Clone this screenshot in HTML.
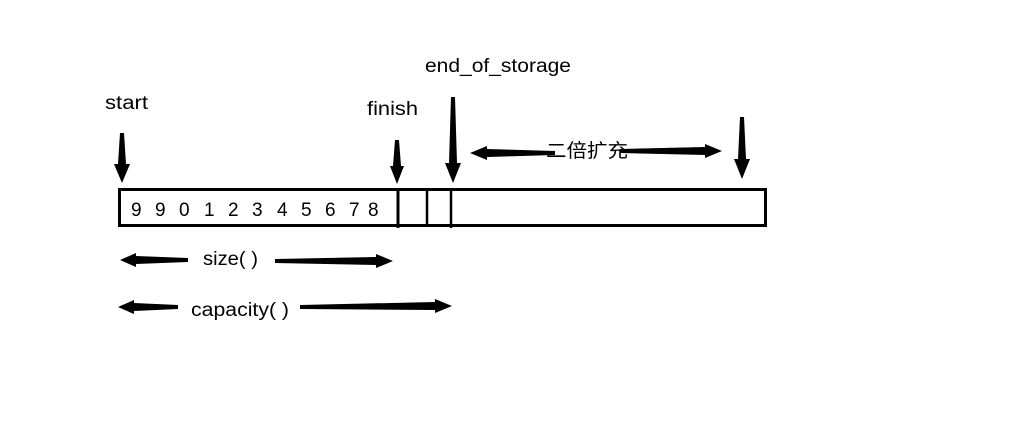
<!DOCTYPE html>
<html><head><meta charset="utf-8"><style>
html,body{margin:0;padding:0;background:#fff;}
svg{display:block}
text{font-family:"Liberation Sans","Noto Sans CJK SC",sans-serif;font-size:19px;fill:#000}
</style></head><body>
<svg width="1013" height="447" viewBox="0 0 1013 447" xmlns="http://www.w3.org/2000/svg">
<rect x="0" y="0" width="1013" height="447" fill="#fff"/>
<rect x="119.5" y="189.5" width="646" height="36" fill="none" stroke="#000" stroke-width="3"/>
<line x1="398" y1="188" x2="398" y2="228" stroke="#000" stroke-width="3"/>
<line x1="427" y1="188" x2="427" y2="227" stroke="#000" stroke-width="2.5"/>
<line x1="451" y1="188" x2="451" y2="228" stroke="#000" stroke-width="2.5"/>
<g font-size="19">
<text x="131" y="216">9</text><text x="155" y="216">9</text><text x="179" y="216">0</text>
<text x="204" y="216">1</text><text x="228" y="216">2</text><text x="252" y="216">3</text>
<text x="277" y="216">4</text><text x="301" y="216">5</text><text x="325" y="216">6</text>
<text x="349" y="216">7</text><text x="368" y="216">8</text>
</g>
<text x="105" y="109" textLength="43" lengthAdjust="spacingAndGlyphs">start</text>
<text x="367" y="115" textLength="51" lengthAdjust="spacingAndGlyphs">finish</text>
<text x="425" y="72" textLength="146" lengthAdjust="spacingAndGlyphs">end_of_storage</text>
<text x="546" y="157" font-size="19" textLength="82" lengthAdjust="spacingAndGlyphs">二倍扩充</text>
<text x="203" y="265" textLength="55" lengthAdjust="spacingAndGlyphs">size( )</text>
<text x="191" y="316" textLength="98" lengthAdjust="spacingAndGlyphs">capacity( )</text>
<g fill="#000">
<polygon points="120,133 124,133 126,164 130,164 122,183 114,164 118,164"/>
<polygon points="395,140 399,140 401,166 404,166 397,184 390,166 393,166"/>
<polygon points="451,97 455,97 457,163 461,163 453,183 445,163 449,163"/>
<polygon points="740,117 744,117 746,159 750,159 742,179 734,159 738,159"/>
<polygon points="470,153 487,146 487,149 555,151 555,155 487,157 487,160"/>
<polygon points="722,151 705,144 705,147 620,149 620,153 705,155 705,158"/>
<polygon points="120,260 136,253 136,256 188,258 188,262 136,264 136,267"/>
<polygon points="393,261 376,254 376,257 275,259 275,263 376,265 376,268"/>
<polygon points="118,307 134,300 134,303 178,305 178,309 134,311 134,314"/>
<polygon points="452,306 435,299 435,302 300,305 300,309 435,310 435,313"/>
</g>
</svg>
</body></html>
